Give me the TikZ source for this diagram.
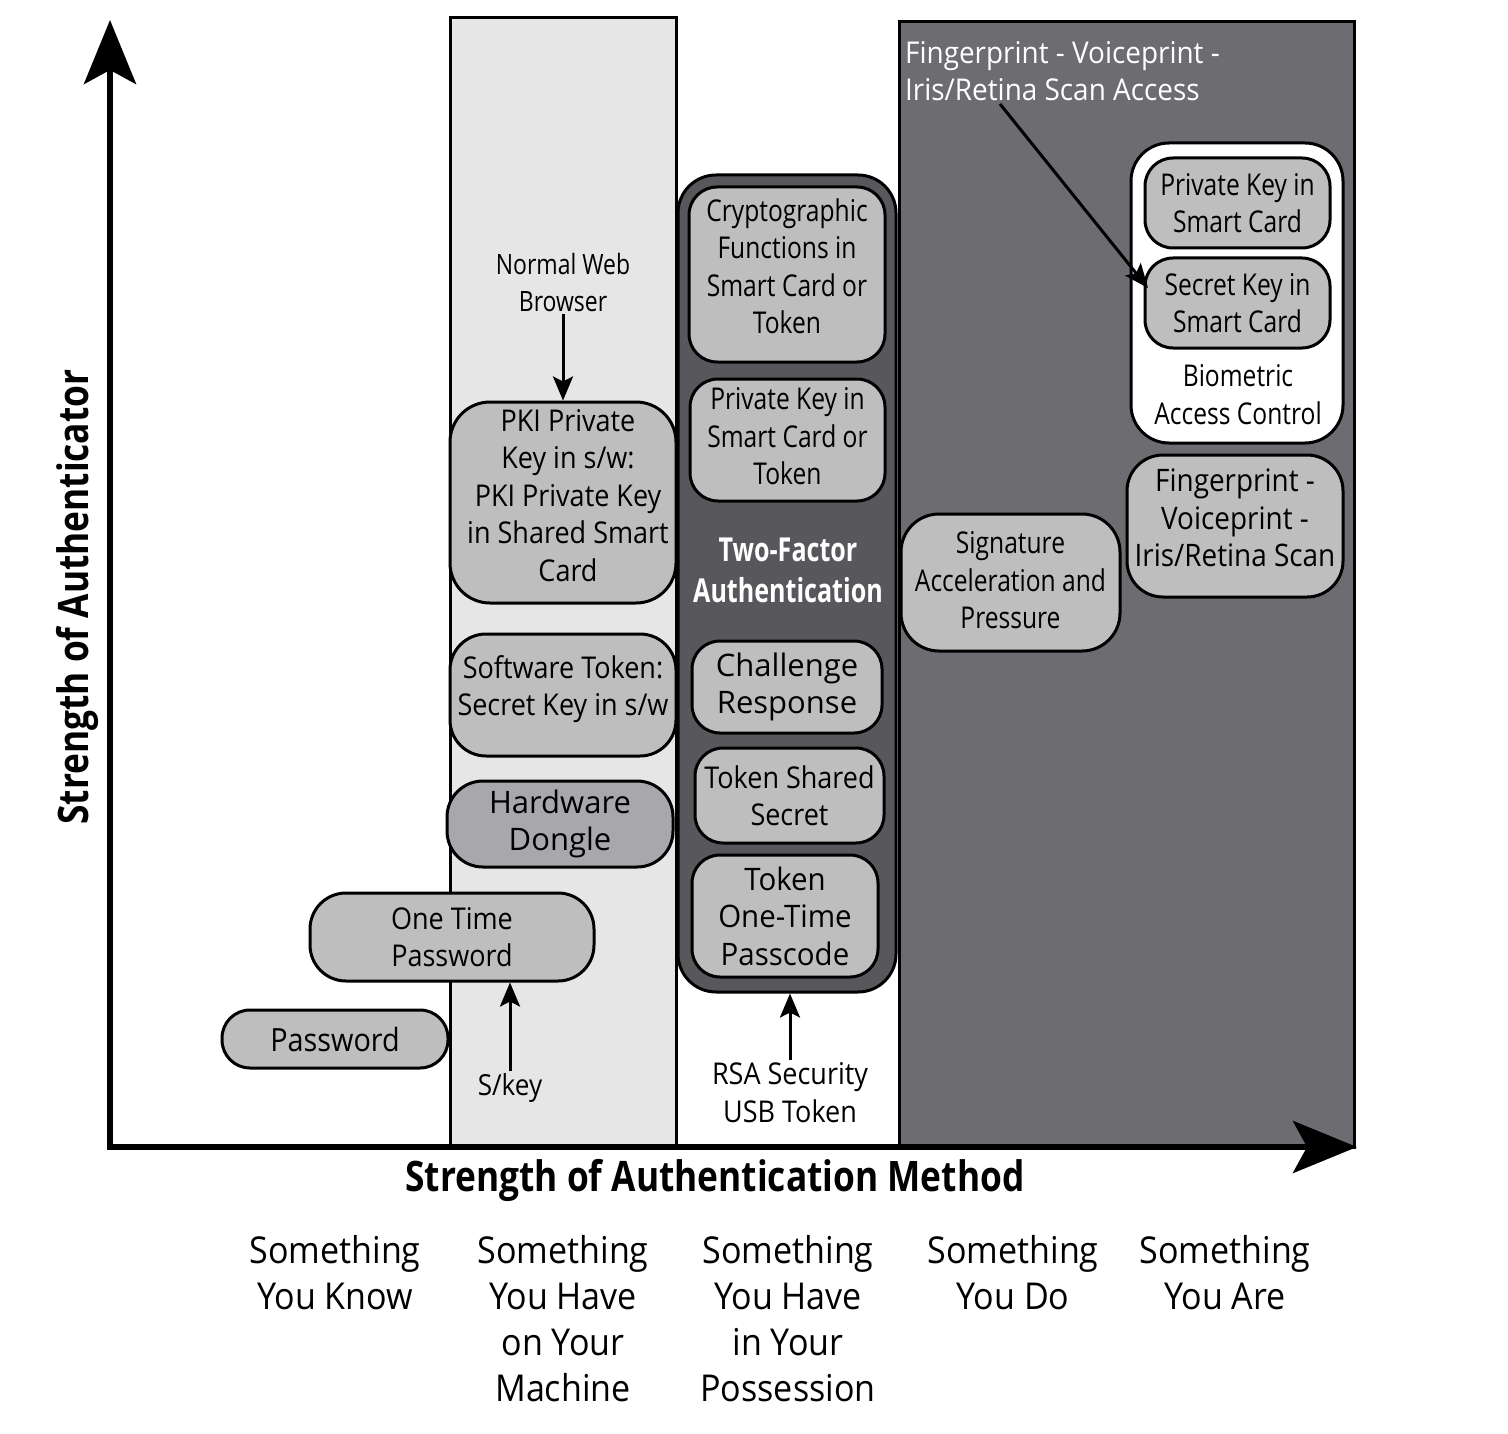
\documentclass[tikz,border=0pt]{standalone}
\usepackage{fontspec}
\setmainfont{Open Sans}
\newfontfamily\fN[FakeStretch=0.82]{Open Sans}
\newfontfamily\fM[FakeStretch=0.9]{Open Sans}
\newfontfamily\fH[FakeStretch=0.93]{Open Sans}
\newfontfamily\fW[FakeStretch=1.0]{Open Sans}
\newfontfamily\fT[FakeStretch=0.95]{Open Sans}
\newfontfamily\fS[FakeStretch=0.92]{Open Sans}
\newfontfamily\fB[FakeStretch=0.76]{Open Sans}
\newfontfamily\fX[FakeStretch=0.84]{Open Sans}
\usetikzlibrary{arrows.meta}
\definecolor{nodegray}{RGB}{190,190,190}
\definecolor{lightcol}{RGB}{230,230,230}
\definecolor{darkcol}{RGB}{108,108,113}
\definecolor{tfcol}{RGB}{88,88,92}
\definecolor{donglecol}{RGB}{168,168,172}
\begin{document}
\begin{tikzpicture}[x=1pt,y=-1pt,
  box/.style={draw=black, line width=3pt, fill=nodegray, rounded corners=28pt, align=center, inner sep=0pt},
  col/.style={draw=black, line width=3pt, inner sep=0pt},
  fn/.style={font=\fN\fontsize{30}{37.5}\selectfont},
  fm/.style={font=\fM\fontsize{30}{37.5}\selectfont},
  fw/.style={font=\fW\fontsize{31}{37.5}\selectfont},
  txt/.style={inner sep=2pt, align=center},
  arr/.style={line width=3pt, -{Stealth[length=24pt,width=20pt,inset=5pt]}},
  axis/.style={line width=6pt, -{Stealth[length=64pt,width=52pt,inset=14pt]}},
  bottom/.style={txt, font=\fS\fontsize{37}{46}\selectfont},
  title/.style={inner sep=2pt, font=\fX\bfseries\fontsize{42}{50}\selectfont}
]
\useasboundingbox (0,0) rectangle (1508,1434);
\fill[white] (0,0) rectangle (1508,1434);

% columns
\node[col, fill=lightcol, minimum width=226pt, minimum height=1127pt] (colB) at (563,581.5) {};
\node[col, fill=darkcol, minimum width=455pt, minimum height=1125pt] (colD) at (1126.5,584.5) {};

% axes
\coordinate (O) at (110,1147);
\coordinate (ytip) at (110,20);
\coordinate (xtip) at (1357,1147);
\coordinate (xstart) at (107,1147);
\draw[axis] (O) -- (ytip);
\draw[axis] (xstart) -- (xtip);

% two-factor container
\node[col, fill=tfcol, rounded corners=38pt, minimum width=218pt, minimum height=817pt] (tf) at (787,583.5) {};
\node[txt, text=white, font=\fB\bfseries\fontsize{33}{41}\selectfont] (tft) at (788,570) {Two-Factor\\Authentication};

% two-factor boxes
\node[box, fn, minimum width=196pt, minimum height=175pt] (crypt) at (787,274.5) {Cryptographic\\Functions in\\Smart Card or\\Token\\[-21pt]};
\node[box, fn, minimum width=195pt, minimum height=122pt] (pksc) at (787.5,440) {Private Key in\\Smart Card or\\Token\\[-30pt]};
\node[box, fw, minimum width=190pt, minimum height=92pt] (chal) at (787,687) {Challenge\\Response};
\node[box, fm, minimum width=189pt, minimum height=95pt] (tss) at (789.5,795.5) {Token Shared\\Secret};
\node[box, fw, font=\fT\fontsize{31}{37.5}\selectfont, minimum width=186pt, minimum height=122pt] (totp) at (785,916) {Token\\One-Time\\Passcode};

% "have on machine" column
\node[box, fm, rounded corners=40pt, minimum width=226pt, minimum height=201pt] (pki) at (563,502.5) {\hspace*{10pt}PKI Private\\\hspace*{10pt}Key in s/w:\\\hspace*{10pt}PKI Private Key\\\hspace*{10pt}in Shared Smart\\\hspace*{10pt}Card\\[-23pt]};
\node[box, fm, rounded corners=36pt, minimum width=226pt, minimum height=122pt] (sw) at (563,695) {Software Token:\\Secret Key in s/w\\[-19pt]};
\node[box, fw, fill=donglecol, rounded corners=36pt, minimum width=226pt, minimum height=86pt] (hd) at (560,824) {Hardware\\Dongle};
\node[box, fm, rounded corners=36pt, minimum width=284pt, minimum height=88pt] (otp) at (452,937) {One Time\\Password};
\node[box, fm, font=\fM\fontsize{32}{37.5}\selectfont, minimum width=226pt, minimum height=58pt] (pw) at (335,1039) {Password};

\node[txt, font=\fN\fontsize{28}{37.5}\selectfont] (nwb) at (563,282.5) {Normal Web\\Browser};
\draw[arr] (nwb.south) -- (pki.north);
\node[txt, font=\fM\fontsize{29}{37.5}\selectfont] (skey) at (510,1088) {S/key};
\draw[arr] (skey.north) -- (skey.north |- otp.south);
\node[txt, font=\fM\fontsize{30}{37.5}\selectfont] (rsa) at (790,1092.5) {RSA Security\\USB Token};
\draw[arr] (rsa.north) -- (rsa.north |- tf.south);

% dark column content
\node[col, fill=white, rounded corners=38pt, minimum width=212pt, minimum height=300pt] (wb) at (1237,293) {};
\node[box, fn, minimum width=185pt, minimum height=90pt] (pksc2) at (1237.5,203) {Private Key in\\Smart Card};
\node[box, fn, minimum width=185pt, minimum height=90pt] (sk) at (1237.5,303) {Secret Key in\\Smart Card};
\node[txt, fn] (bio) at (1238,394.5) {Biometric\\Access Control};
\node[box, fm, font=\fM\fontsize{31}{37.5}\selectfont, rounded corners=36pt, minimum width=216pt, minimum height=142pt] (fvi) at (1235,526) {Fingerprint -\\Voiceprint -\\Iris/Retina Scan\\[-21pt]};
\node[box, fn, rounded corners=38pt, minimum width=219pt, minimum height=137pt] (sig) at (1010.5,582.5) {Signature\\Acceleration and\\Pressure\\[-33pt]};

\node[inner sep=2pt, align=left, anchor=west, text=white, font=\fH\fontsize{30}{37.5}\selectfont] (hdr) at (903,71) {Fingerprint - Voiceprint -\\Iris/Retina Scan Access};
\coordinate (hdrA) at (1000,104);
\coordinate (skA) at (1148,288);
\draw[arr] (hdrA) -- (skA);

% axis titles
\node[title] (xt) at (715,1180) {Strength of Authentication Method};
\node[title, rotate=90] (yt) at (77,597) {Strength of Authenticator};

% bottom labels
\node[bottom] (b1) at (335,1273) {Something\\You Know};
\node[bottom] (b2) at (563,1319) {Something\\You Have\\on Your\\Machine};
\node[bottom] (b3) at (788,1319) {Something\\You Have\\in Your\\Possession};
\node[bottom] (b4) at (1013,1273) {Something\\You Do};
\node[bottom] (b5) at (1225,1273) {Something\\You Are};
\end{tikzpicture}
\end{document}
